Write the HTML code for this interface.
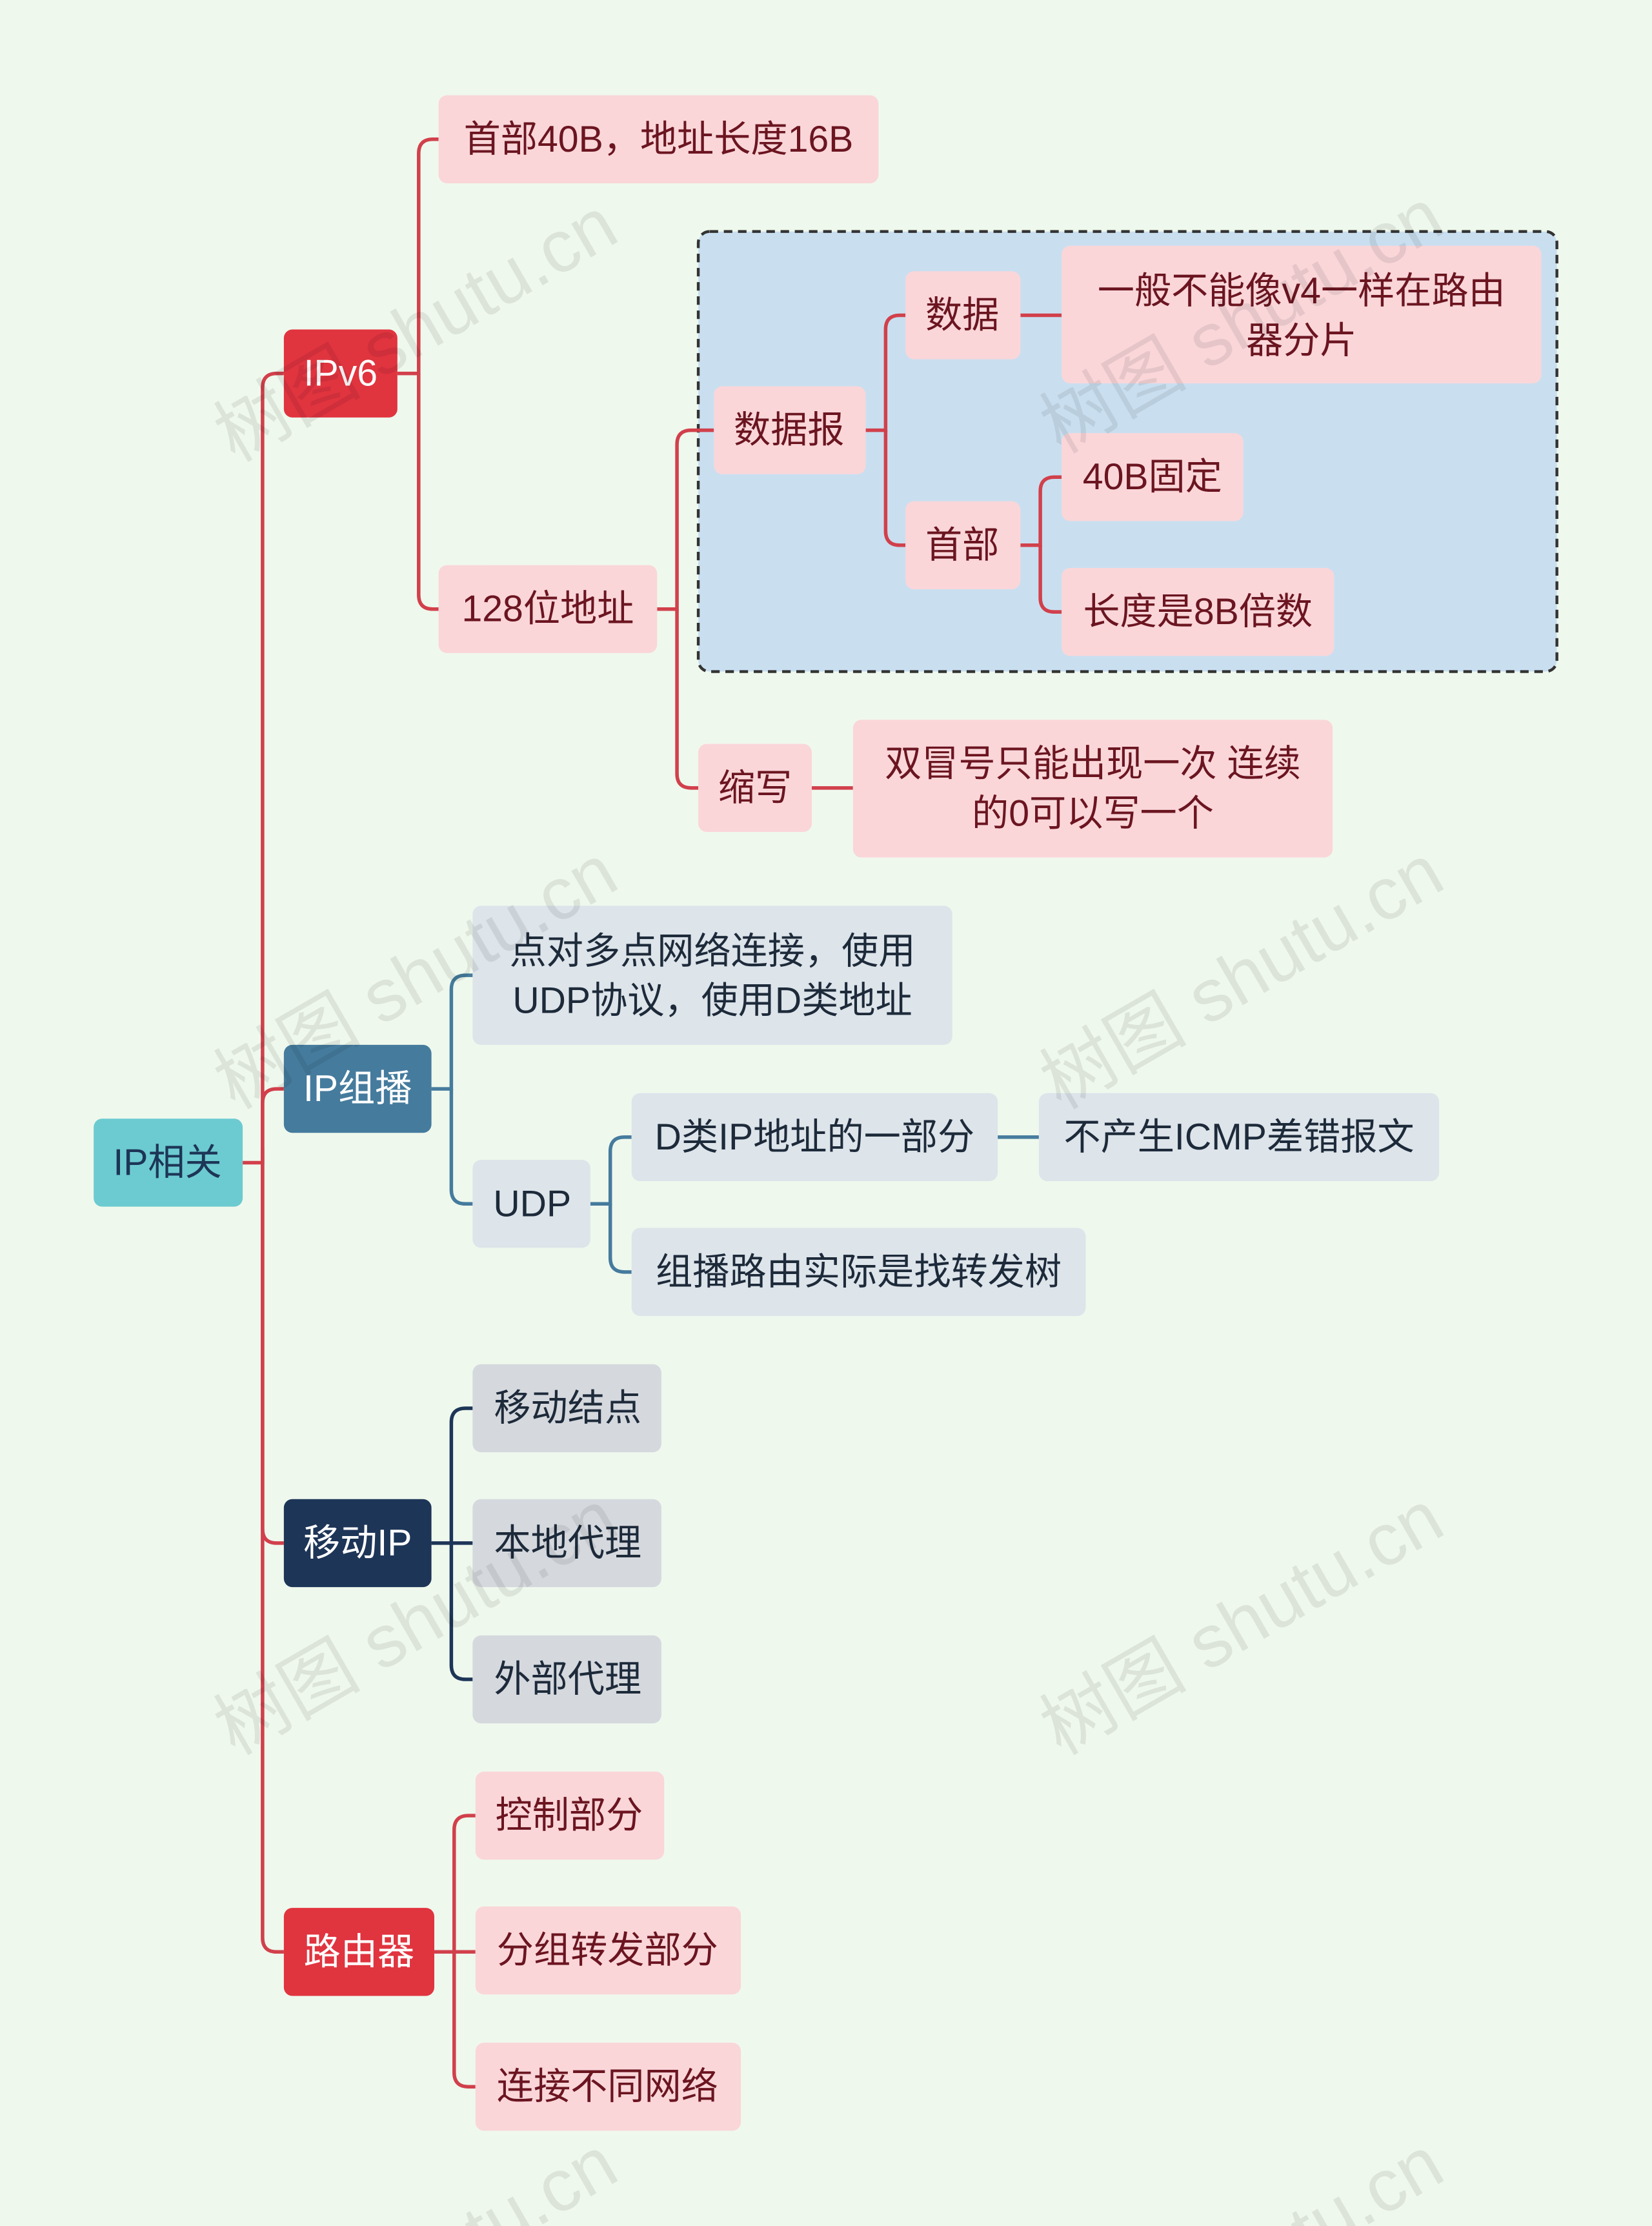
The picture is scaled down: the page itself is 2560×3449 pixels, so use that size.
<!DOCTYPE html>
<html><head><meta charset="utf-8"><style>
html,body{margin:0;padding:0;background:#eff8ed;overflow:hidden;width:2560px;height:3449px;}
svg{display:block;}
text{font-family:"Liberation Sans","Noto Sans CJK SC",sans-serif;font-size:26px;dominant-baseline:central;text-anchor:middle;}
text.wm{font-size:52px;}
</style></head><body>
<svg width="2560" height="3449" viewBox="0 0 1164 1568" xmlns="http://www.w3.org/2000/svg">
<rect width="1164" height="1568" fill="#eff8ed"/>
<rect x="492" y="163" width="605" height="310" rx="8" fill="#c9dff0" stroke="#333" stroke-width="2" stroke-dasharray="6,4"/>
<g fill="none" stroke-width="2.5">
<g stroke="#d1404b">
<path d="M171 819 H185 V273 Q185 263 195 263 H200"/>
<path d="M185 809 V1365 Q185 1375 195 1375 H200"/>
<path d="M280 263 H295 V108 Q295 98 305 98 H309"/>
<path d="M295 263 V419 Q295 429 305 429 H309"/>
<path d="M463 429 H477 V313 Q477 303 487 303 H503"/>
<path d="M477 429 V545 Q477 555 487 555 H492"/>
<path d="M610 303 H624 V232 Q624 222 634 222 H638"/>
<path d="M624 303 V374 Q624 384 634 384 H638"/>
<path d="M719 222 H748"/>
<path d="M719 384 H733 V346 Q733 336 743 336 H748"/>
<path d="M733 384 V421 Q733 431 743 431 H748"/>
<path d="M572 555 H601"/>
<path d="M306 1375 H320 V1289 Q320 1279 330 1279 H335"/>
<path d="M320 1375 V1460 Q320 1470 330 1470 H335"/>
<path d="M320 1375 H335"/>
<path d="M185 819 V777 Q185 767 195 767 H200"/>
<path d="M185 819 V1077 Q185 1087 195 1087 H200"/>
</g>
<g stroke="#457b9d">
<path d="M304 767 H318 V697 Q318 687 328 687 H333"/>
<path d="M318 767 V838 Q318 848 328 848 H333"/>
<path d="M416 848 H430 V811 Q430 801 440 801 H445"/>
<path d="M430 848 V886 Q430 896 440 896 H445"/>
<path d="M703 801 H732"/>
</g>
<g stroke="#1d3557">
<path d="M304 1087 H318 V1002 Q318 992 328 992 H333"/>
<path d="M318 1087 V1173 Q318 1183 328 1183 H333"/>
<path d="M318 1087 H333"/>
</g>
</g>
<g>
<rect x="66" y="788" width="105" height="62" rx="6" fill="#6ccbd0"/><text x="118" y="819" fill="#1d3557">IP相关</text>
<rect x="200" y="232" width="80" height="62" rx="6" fill="#e0343f"/><text x="240" y="263" fill="#fff">IPv6</text>
<rect x="200" y="736" width="104" height="62" rx="6" fill="#457b9d"/><text x="252" y="767" fill="#fff">IP组播</text>
<rect x="200" y="1056" width="104" height="62" rx="6" fill="#1d3557"/><text x="252" y="1087" fill="#fff">移动IP</text>
<rect x="200" y="1344" width="106" height="62" rx="6" fill="#e0343f"/><text x="253" y="1375" fill="#fff">路由器</text>
</g>
<g fill="#fad6d9">
<rect x="309" y="67" width="310" height="62" rx="6"/>
<rect x="309" y="398" width="154" height="62" rx="6"/>
<rect x="503" y="272" width="107" height="62" rx="6"/>
<rect x="638" y="191" width="81" height="62" rx="6"/>
<rect x="748" y="173" width="338" height="97" rx="6"/>
<rect x="638" y="353" width="81" height="62" rx="6"/>
<rect x="748" y="305" width="128" height="62" rx="6"/>
<rect x="748" y="400" width="192" height="62" rx="6"/>
<rect x="492" y="524" width="80" height="62" rx="6"/>
<rect x="601" y="507" width="338" height="97" rx="6"/>
<rect x="335" y="1248" width="133" height="62" rx="6"/>
<rect x="335" y="1343" width="187" height="62" rx="6"/>
<rect x="335" y="1439" width="187" height="62" rx="6"/>
</g>
<g fill="#6b1520">
<text x="464" y="98">首部40B，地址长度16B</text>
<text x="386" y="429">128位地址</text>
<text x="556" y="303">数据报</text>
<text x="678" y="222">数据</text>
<text x="917" y="205">一般不能像v4一样在路由</text>
<text x="917" y="240">器分片</text>
<text x="678" y="384">首部</text>
<text x="812" y="336">40B固定</text>
<text x="844" y="431">长度是8B倍数</text>
<text x="532" y="555">缩写</text>
<text x="770" y="538">双冒号只能出现一次 连续</text>
<text x="770" y="573">的0可以写一个</text>
<text x="401" y="1279">控制部分</text>
<text x="428" y="1374">分组转发部分</text>
<text x="428" y="1470">连接不同网络</text>
</g>
<g fill="#dde4ea">
<rect x="333" y="638" width="338" height="98" rx="6"/>
<rect x="333" y="817" width="83" height="62" rx="6"/>
<rect x="445" y="770" width="258" height="62" rx="6"/>
<rect x="732" y="770" width="282" height="62" rx="6"/>
<rect x="445" y="865" width="320" height="62" rx="6"/>
</g>
<g fill="#d5d9de">
<rect x="333" y="961" width="133" height="62" rx="6"/>
<rect x="333" y="1056" width="133" height="62" rx="6"/>
<rect x="333" y="1152" width="133" height="62" rx="6"/>
</g>
<g fill="#1d2a3a">
<text x="502" y="670">点对多点网络连接，使用</text>
<text x="502" y="705">UDP协议，使用D类地址</text>
<text x="375" y="848">UDP</text>
<text x="574" y="801">D类IP地址的一部分</text>
<text x="873" y="801">不产生ICMP差错报文</text>
<text x="605" y="896">组播路由实际是找转发树</text>
<text x="400" y="992">移动结点</text>
<text x="400" y="1087">本地代理</text>
<text x="400" y="1183">外部代理</text>
</g>
<g fill="#000" fill-opacity="0.08">
<text class="wm" x="293" y="232" transform="rotate(-30 293 232)">树图 shutu.cn</text>
<text class="wm" x="875" y="226" transform="rotate(-30 875 226)">树图 shutu.cn</text>
<text class="wm" x="293" y="688" transform="rotate(-30 293 688)">树图 shutu.cn</text>
<text class="wm" x="875" y="688" transform="rotate(-30 875 688)">树图 shutu.cn</text>
<text class="wm" x="293" y="1143" transform="rotate(-30 293 1143)">树图 shutu.cn</text>
<text class="wm" x="875" y="1143" transform="rotate(-30 875 1143)">树图 shutu.cn</text>
<text class="wm" x="293" y="1598" transform="rotate(-30 293 1598)">树图 shutu.cn</text>
<text class="wm" x="875" y="1598" transform="rotate(-30 875 1598)">树图 shutu.cn</text>
</g>
</svg>
</body></html>
